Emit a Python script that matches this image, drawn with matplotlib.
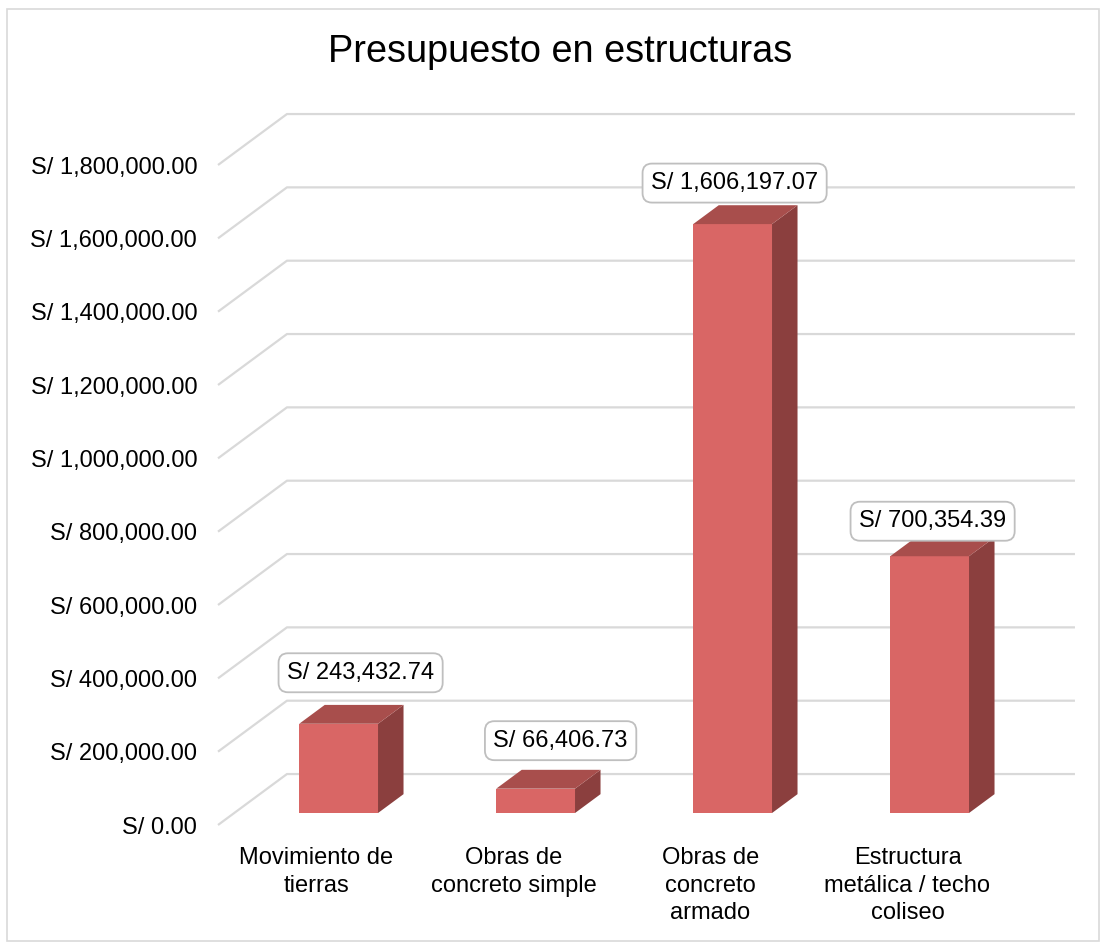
import numpy as np
import matplotlib
matplotlib.use("Agg")
from matplotlib import pyplot as plt
from matplotlib.patches import Polygon, Rectangle

plt.rcParams['font.family'] = ['Liberation Sans', 'DejaVu Sans']

# data
categories = ["Movimiento de\ntierras", "Obras de\nconcreto simple",
              "Obras de\nconcreto\narmado", "Estructura\nmetálica / techo\ncoliseo"]
values = [243432.74, 66406.73, 1606197.07, 700354.39]
ticks = list(range(0, 1800001, 200000))
title = "Presupuesto en estructuras"

# label box nudges (pixels) from the top-front of each bar
label_nudge = [(22, 51), (25, 48), (2, 41), (3, 35)]

fig = plt.figure(figsize=(11, 9.42), dpi=100)
ax = fig.add_axes([218/1100, 1-825/942, (1006-218)/1100, (825-165)/942])
ax.set_xlim(-0.5, 3.5)
ax.set_ylim(0, 1.8e6)
ax.patch.set_alpha(0)
for s in ax.spines.values():
    s.set_visible(False)

# 3D depth in data units
DX = 0.35
DY = 139000.
grid_c = "#d9d9d9"

### back wall gridlines
for v in ticks:
    ax.plot([-0.5, -0.5+DX, 3.5+DX], [v, v+DY, v+DY], color=grid_c, lw=1.6,
            clip_on=False, zorder=1, solid_capstyle='butt')

### bars
w = 0.40
f0 = 0.235   # front-face position within floor depth
d = 0.37     # bar depth
c_front = "#d96665"
c_top = "#a84e4c"
c_side = "#8b3f3e"
fs = 17
for i, v in enumerate(values):
    xl = i - w/2 + 0.03 + f0*DX
    yb = f0*DY
    front = Rectangle((xl, yb), w, v, facecolor=c_front, edgecolor='none', zorder=3, clip_on=False)
    top = Polygon([(xl, yb+v), (xl+w, yb+v), (xl+w+d*DX, yb+v+d*DY), (xl+d*DX, yb+v+d*DY)],
                  closed=True, facecolor=c_top, edgecolor='none', zorder=3, clip_on=False)
    side = Polygon([(xl+w, yb), (xl+w+d*DX, yb+d*DY), (xl+w+d*DX, yb+v+d*DY), (xl+w, yb+v)],
                   closed=True, facecolor=c_side, edgecolor='none', zorder=3, clip_on=False)
    ax.add_patch(side)
    ax.add_patch(front)
    ax.add_patch(top)
    ax.annotate(f"S/ {v:,.2f}", xy=(xl + w/2, yb + v), xytext=label_nudge[i],
                textcoords='offset pixels', ha='center', va='center', fontsize=fs,
                zorder=5, annotation_clip=False,
                bbox=dict(boxstyle='round,pad=0.36,rounding_size=0.4', facecolor='white',
                          edgecolor='#bfbfbf', lw=1.3))

ax.set_yticks(ticks)
ax.set_yticklabels([f"S/ {t:,.2f}" for t in ticks], fontsize=fs)
ax.set_xticks(range(len(categories)))
ax.set_xticklabels(categories, fontsize=fs, linespacing=1.32)
ax.tick_params(axis='y', length=0, pad=15)
ax.tick_params(axis='x', length=0, pad=16)

fig.text(560/1100, 1-52/942, title, ha='center', va='center', fontsize=27.3)

# outer chart border
fig.patches.append(Rectangle((7/1100, 1/942), 1092/1100, 932/942, transform=fig.transFigure,
                             facecolor='none', edgecolor='#d9d9d9', lw=1.2))

plt.savefig("out.png", dpi=100)
